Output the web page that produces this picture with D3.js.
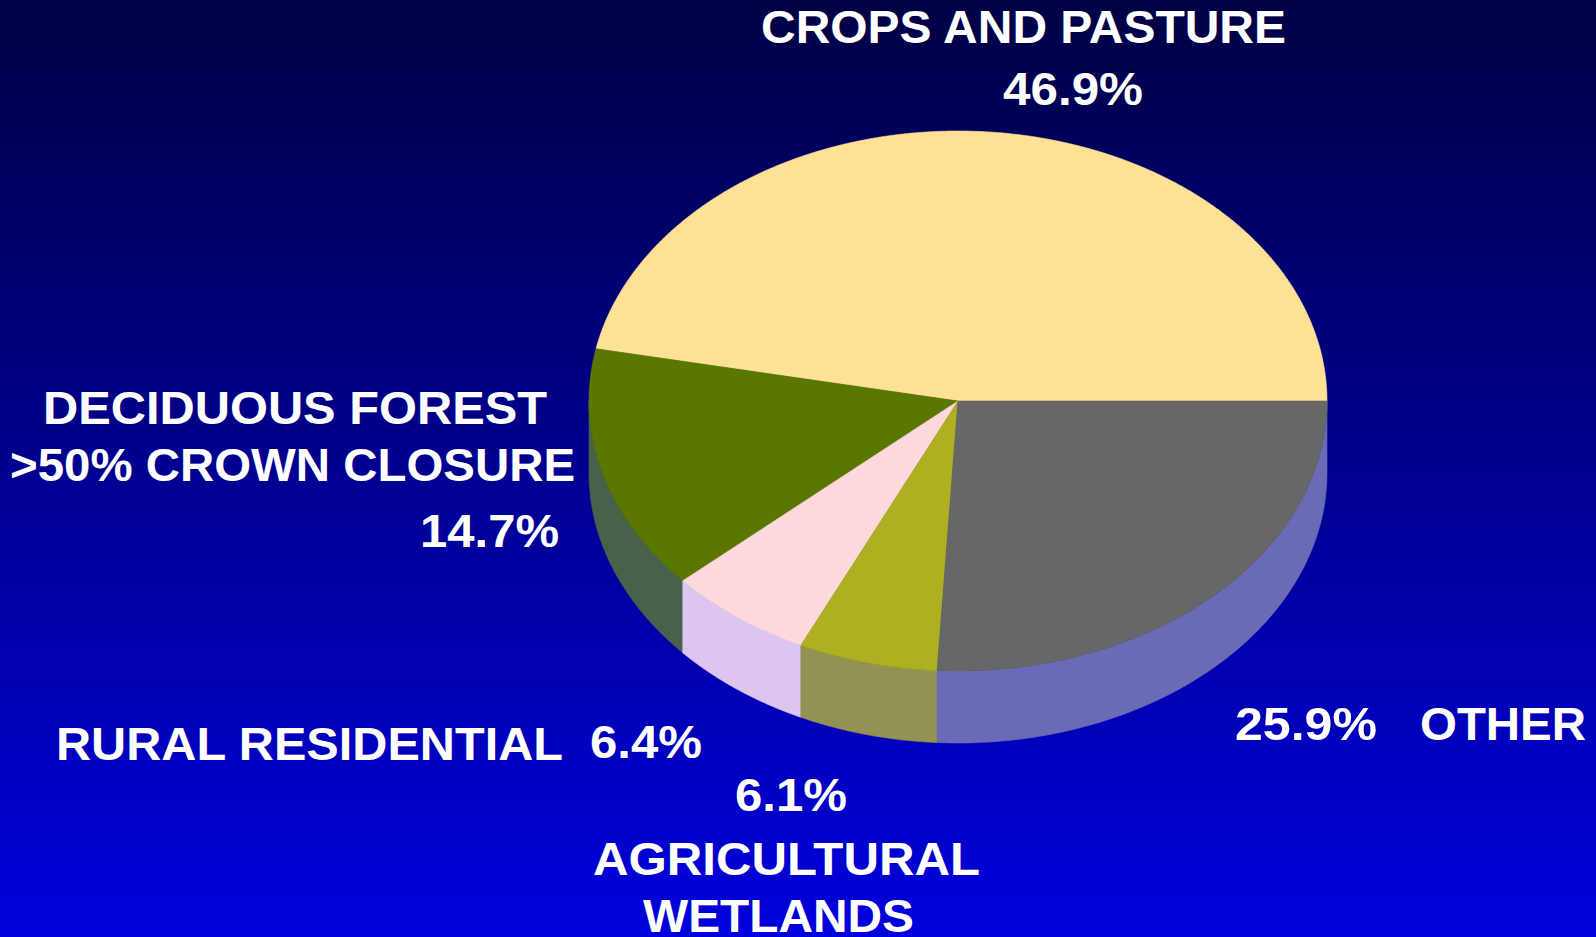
<!DOCTYPE html>
<html>
<head>
<meta charset="utf-8">
<script src="https://cdn.jsdelivr.net/npm/d3@7"></script>
<style>
  html, body { margin: 0; padding: 0; background: #000060; overflow: hidden; }
  svg { display: block; }
  text { font-family: "Liberation Sans", Arial, Helvetica, sans-serif; font-weight: bold; fill: #ffffff; }
</style>
</head>
<body>
<svg id="chart" width="1596" height="937"></svg>
<script>
// ---- data ----
const categories = ["CROPS AND PASTURE", "DECIDUOUS FOREST", "RURAL RESIDENTIAL", "AGRICULTURAL WETLANDS", "OTHER"];
const values = [46.9, 14.7, 6.4, 6.1, 25.9];
const colors = ["#FFE196", "#5A7800", "#FFD8DC", "#AFAF22", "#676767"];
const sideColors = ["#B8A8B0", "#47624A", "#DCC6F0", "#929252", "#6A6AB6"];
const extraLines = [">50% CROWN CLOSURE"];

// ---- layout ----
const W = 1596, H = 937;
const cx = 958, cy = 401, rx = 369, ry = 270, depth = 72;
const fontSize = 46;

const svg = d3.select("#chart");
const defs = svg.append("defs");

const grad = defs.append("linearGradient").attr("id", "bg")
  .attr("x1", 0).attr("y1", 0).attr("x2", 0).attr("y2", 1);
grad.append("stop").attr("offset", "0%").attr("stop-color", "#000044");
grad.append("stop").attr("offset", "100%").attr("stop-color", "#0000DC");
svg.append("rect").attr("width", W).attr("height", H).attr("fill", "url(#bg)");

// pie: counter-clockwise from 3 o'clock
const pie = d3.pie().sort(null).value(d => d)
  .startAngle(Math.PI / 2).endAngle(Math.PI / 2 - 2 * Math.PI);
const arcs = pie(values);

// d3 angle (clockwise from north) -> point on the ellipse
const ex = a => cx + rx * Math.sin(a);
const ey = a => cy - ry * Math.cos(a);
const line = d3.line().x(d => d[0]).y(d => d[1]);

function samples(a0, a1) {
  const n = Math.max(2, Math.ceil(Math.abs(a1 - a0) / 0.005));
  return d3.range(n + 1).map(k => a0 + (a1 - a0) * k / n);
}

// sides: only the front (lower) half of the ellipse is visible
const gSide = svg.append("g");
arcs.forEach((d, i) => {
  const hi = Math.min(d.startAngle, -Math.PI / 2);
  const lo = Math.max(d.endAngle, -3 * Math.PI / 2);
  if (hi <= lo) return;
  const top = samples(hi, lo).map(a => [ex(a), ey(a)]);
  const bottom = samples(lo, hi).map(a => [ex(a), ey(a) + depth]);
  gSide.append("path")
    .attr("d", line(top.concat(bottom)) + "Z")
    .attr("fill", sideColors[i])
    .attr("stroke", sideColors[i]).attr("stroke-width", 0.6);
});

// top faces
const gTop = svg.append("g");
arcs.forEach((d, i) => {
  const pts = [[cx, cy]].concat(samples(d.startAngle, d.endAngle).map(a => [ex(a), ey(a)]));
  gTop.append("path")
    .attr("d", line(pts) + "Z")
    .attr("fill", colors[i])
    .attr("stroke", colors[i]).attr("stroke-width", 0.6);
});

// labels
const fmt = v => d3.format(".1f")(v) + "%";
const labels = [
  { t: categories[0],               x: 761,  y: 43,  w: 525 },
  { t: fmt(values[0]),              x: 1003, y: 105, w: 140 },
  { t: categories[1],               x: 43,   y: 424, w: 504 },
  { t: extraLines[0],               x: 10,   y: 481, w: 565 },
  { t: fmt(values[1]),              x: 420,  y: 547, w: 139 },
  { t: categories[2],               x: 56,   y: 760, w: 507 },
  { t: fmt(values[2]),              x: 590,  y: 758, w: 112 },
  { t: fmt(values[3]),              x: 735,  y: 811, w: 112 },
  { t: categories[3].split(" ")[0], x: 593,  y: 875, w: 387 },
  { t: categories[3].split(" ")[1], x: 643,  y: 932, w: 271 },
  { t: fmt(values[4]),              x: 1235, y: 740, w: 142 },
  { t: categories[4],               x: 1420, y: 740, w: 166 }
];
svg.append("g").selectAll("text").data(labels).join("text")
  .attr("x", d => d.x).attr("y", d => d.y)
  .attr("font-size", fontSize)
  .attr("textLength", d => d.w)
  .attr("lengthAdjust", "spacingAndGlyphs")
  .text(d => d.t);
</script>
</body>
</html>
